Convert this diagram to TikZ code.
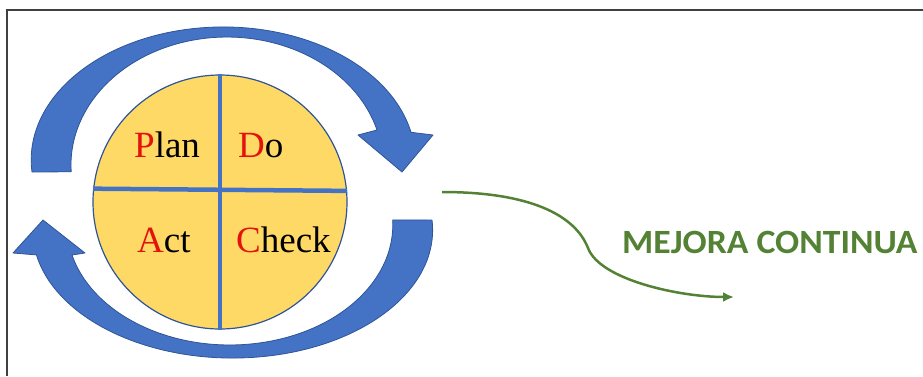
\documentclass[tikz,border=0pt]{standalone}
\usepackage{fontspec}
\usepackage{graphicx}
\usetikzlibrary{arrows.meta}
\newfontfamily\pdcafont{Liberation Serif}
\newfontfamily\mejorafont{Carlito}
\definecolor{mBlue}{HTML}{4472C4}
\definecolor{mDarkBlue}{HTML}{2F5597}
\definecolor{mYellow}{HTML}{FFD966}
\definecolor{mRed}{HTML}{E3120B}
\definecolor{mGreen}{HTML}{548235}
\definecolor{mFrame}{HTML}{404040}
\newcommand{\redinitial}[2]{\textcolor{mRed}{#1}#2}

\begin{document}
\begin{tikzpicture}[x=1pt, y=-1pt,
    cyclearrow/.style={fill=mBlue, draw=mDarkBlue, line width=0.8pt, line join=round},
    pdcaword/.style={anchor=base west, inner sep=0pt, font=\pdcafont\fontsize{37}{40}\selectfont}]
  \useasboundingbox (0,0) rectangle (923,376);
  \draw[mFrame, line width=1.2pt] (7,376) -- (7,10) -- (923,10);

  % arrow over the top
  \draw[cyclearrow] (32,172) arc[start angle=174.8, end angle=348, x radius=192, y radius=133]
    -- (433,135) -- (402,172) -- (358,135) -- (377,130)
    arc[start angle=344.1, end angle=177, x radius=156, y radius=128] -- cycle;
  % arrow under the bottom
  \draw[cyclearrow] (432,220) arc[start angle=-4.5, end angle=168.8, x radius=200, y radius=128]
    -- (13,253) -- (43,220) -- (85,253) -- (72,255)
    arc[start angle=165.5, end angle=-2.4, x radius=163, y radius=120] -- cycle;

  \node[circle, draw=mDarkBlue, line width=1.2pt, fill=mYellow, minimum size=254pt, inner sep=0pt] (pdca) at (220,202) {};
  \draw[mBlue, line width=4.5pt] (pdca.north) -- (pdca.south);
  \draw[mBlue, line width=4.5pt] (pdca.174.6) -- (pdca.5.4);

  \node[pdcaword] (plan) at (134,157) {\redinitial{P}{lan}};
  \node[pdcaword] (do) at (238,157) {\redinitial{D}{o}};
  \node[pdcaword] (act) at (137,252) {\redinitial{A}{ct}};
  \node[pdcaword] (check) at (236,252) {\redinitial{C}{heck}};

  \node[anchor=base west, inner sep=0pt, text=mGreen, font=\mejorafont\bfseries\fontsize{34}{40}\selectfont] (mejora) at (622,253) {\scalebox{1.05}[1]{MEJORA CONTINUA}};
  \coordinate (mstart) at (442,192);
  \coordinate (mend) at (734,297);
  \draw[mGreen, line width=2.5pt, -{Latex[length=11pt, width=10pt]}] (mstart)
    .. controls (530,192) and (575,215) .. (588,248)
    .. controls (600,280) and (680,297) .. (mend);
\end{tikzpicture}
\end{document}
